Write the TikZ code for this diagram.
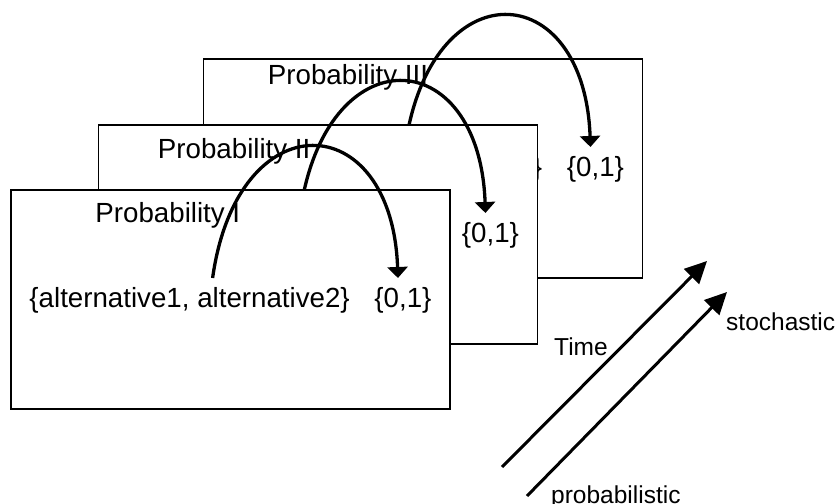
\documentclass[tikz,border=0pt]{standalone}
\usepackage{fontspec}
\setmainfont{Liberation Sans}
\usepackage{tikz}
\usetikzlibrary{arrows.meta,positioning,calc}

\begin{document}
\begin{tikzpicture}[
 x=1pt,y=-1pt,
 box/.style={draw=black,line width=1.5pt,fill=white,minimum width=439pt,minimum height=219pt,inner sep=0pt},
 txt/.style={anchor=base west,inner xsep=0pt,inner ysep=9pt,font=\fontsize{27.7}{33}\selectfont},
 lbl/.style={anchor=base west,inner sep=0pt,font=\fontsize{24.5}{29}\selectfont},
 cv/.style={-{Triangle[length=11pt,width=20pt]},line width=3.3pt},
 ax/.style={-{Triangle[length=22pt,width=21pt]},line width=3pt}
]
\useasboundingbox (0,0) rectangle (837,503);
% third layer
\node[box] (b3) at (423,168.5) {};
\node[txt] (t3) at ($(b3.north west)+(65,26)$) {Probability III};
\node[txt] (a3) at ($(b3.north west)+(19,118)$) {\{alternative1, alternative2\}};
\node[txt] (z3) at ($(b3.north west)+(364,118)$) {\{0,1\}};
\draw[cv] ([xshift=23pt]a3.north) to[out=82,in=92,out distance=180pt,in distance=172pt] ([xshift=-5pt]z3.north);
% second layer
\node[box] (b2) at (318,234.5) {};
\node[txt] (t2) at ($(b2.north west)+(60,34)$) {Probability II};
\node[txt] (a2) at ($(b2.north west)+(19,118)$) {\{alternative1, alternative2\}};
\node[txt] (z2) at ($(b2.north west)+(364,118)$) {\{0,1\}};
\draw[cv] ([xshift=23pt]a2.north) to[out=82,in=92,out distance=180pt,in distance=172pt] ([xshift=-5pt]z2.north);
% first layer
\node[box] (b1) at (230.5,299.5) {};
\node[txt] (t1) at ($(b1.north west)+(85,33)$) {Probability I};
\node[txt] (a1) at ($(b1.north west)+(19,118)$) {\{alternative1, alternative2\}};
\node[txt] (z1) at ($(b1.north west)+(364,118)$) {\{0,1\}};
\draw[cv] ([xshift=23pt]a1.north) to[out=82,in=92,out distance=180pt,in distance=172pt] ([xshift=-5pt]z1.north);
% time axes
\coordinate (s1) at (502,467);
\coordinate (e1) at (707,261);
\coordinate (s2) at (527,496);
\coordinate (e2) at (727,292);
\draw[ax] (s1)--(e1);
\draw[ax] (s2)--(e2);
\node[lbl] (time) at (554,355) {Time};
\node[lbl] (sto) at (726,330) {stochastic};
\node[lbl] (pro) at (551,503) {probabilistic};
\end{tikzpicture}
\end{document}
